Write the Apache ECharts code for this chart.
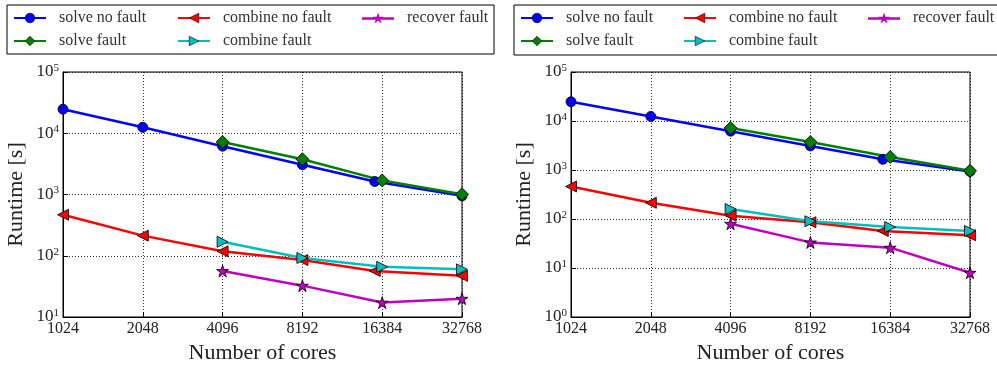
<!DOCTYPE html>
<html>
<head>
<meta charset="utf-8">
<script src="https://cdn.jsdelivr.net/npm/echarts@6/dist/echarts.min.js"></script>
<style>
  html, body { margin: 0; padding: 0; background: #fff; }
  #chart { width: 997px; height: 369px; }
</style>
</head>
<body>
<div id="chart"></div>
<script>
// x values (number of cores); "no fault" runs at the 16k point used 15360 cores
const coresNoFault = [1024, 2048, 4096, 8192, 15360, 32768];
const coresFault = [4096, 8192, 16384, 32768];

// left panel
const leftSolveNoFault = [24700, 12500, 6150, 3060, 1630, 950];
const leftSolveFault = [7200, 3770, 1700, 1010];
const leftCombineNoFault = [467, 213, 118, 85, 56.5, 47];
const leftCombineFault = [169, 92, 66, 60];
const leftRecoverFault = [56.5, 32.5, 17.2, 19.9];

// right panel
const rightSolveNoFault = [24700, 12400, 6200, 3100, 1650, 935];
const rightSolveFault = [7220, 3720, 1840, 965];
const rightCombineNoFault = [461, 214, 117, 86, 57, 46.7];
const rightCombineFault = [160, 90, 68.5, 57];
const rightRecoverFault = [80, 33.3, 26, 8];

const FONT = '"Liberation Serif", "DejaVu Serif", serif';
const STAR = 'path://M50 0 L61.17 34.63 L97.55 34.55 L68.07 55.87 L79.39 90.45 L50 69 L20.61 90.45 L31.93 55.87 L2.45 34.55 L38.83 34.63 Z';
// legend icon: short bar with a star in the middle
const STAR_LEGEND = 'path://M0 48 L320 48 L320 72 L0 72 Z M160 0 L173.52 41.39 L217.06 41.46 L181.87 67.11 L195.27 108.54 L160 83 L124.73 108.54 L138.13 67.11 L102.94 41.46 L146.48 41.39 Z';

const styles = {
  'solve no fault':   { color: '#0000ff', symbol: 'circle', size: 10, rotate: 0 },
  'solve fault':      { color: '#008000', symbol: 'diamond', size: 13, rotate: 0 },
  'combine no fault': { color: '#ff0000', symbol: 'triangle', size: 11, rotate: 90 },
  'combine fault':    { color: '#00bfbf', symbol: 'triangle', size: 11, rotate: -90 },
  'recover fault':    { color: '#bf00bf', symbol: STAR, size: 12, rotate: 0 }
};

function pairs(xs, ys) {
  return xs.map((x, i) => [x, ys[i]]);
}

function makeSeries(name, xs, ys, idx) {
  const s = styles[name];
  return {
    name: name,
    type: 'line',
    xAxisIndex: idx,
    yAxisIndex: idx,
    data: pairs(xs, ys),
    symbol: s.symbol,
    symbolSize: s.size,
    symbolRotate: s.rotate,
    showAllSymbol: true,
    lineStyle: { color: s.color, width: 2.5 },
    itemStyle: { color: s.color, borderColor: '#000', borderWidth: 0.8 },
    z: 3
  };
}

function xAxis(idx) {
  return {
    type: 'log',
    logBase: 2,
    gridIndex: idx,
    min: 1024,
    max: 32768,
    name: 'Number of cores',
    nameLocation: 'middle',
    nameGap: 25,
    nameTextStyle: { fontFamily: FONT, fontSize: 22, color: '#222' },
    axisLine: { lineStyle: { color: '#000', width: 1 } },
    axisTick: { inside: true, length: 5, lineStyle: { color: '#000' } },
    axisLabel: {
      fontFamily: FONT, fontSize: 16, color: '#222', margin: 4,
      showMinLabel: true, showMaxLabel: true,
      formatter: v => String(Math.round(v))
    },
    splitLine: { show: true, lineStyle: { color: '#000', type: [1, 2], width: 0.8 } }
  };
}

function yAxis(idx, min) {
  return {
    type: 'log',
    logBase: 10,
    gridIndex: idx,
    min: min,
    max: 100000,
    name: 'Runtime [s]',
    nameLocation: 'middle',
    nameGap: 36,
    nameTextStyle: { fontFamily: FONT, fontSize: 22, color: '#222' },
    axisLine: { lineStyle: { color: '#000', width: 1 } },
    axisTick: { inside: true, length: 5, lineStyle: { color: '#000' } },
    axisLabel: {
      fontFamily: FONT, fontSize: 17, color: '#222', margin: 4,
      formatter: v => '10{s|' + Math.round(Math.log10(v)) + '}',
      rich: { s: { fontFamily: FONT, fontSize: 11, color: '#222', verticalAlign: 'top', padding: [0, 0, 8, 0] } }
    },
    splitLine: { show: true, lineStyle: { color: '#000', type: [1, 2], width: 0.8 } }
  };
}

function legendItem(n) {
  const s = styles[n];
  if (n === 'recover fault') {
    return { name: n, icon: STAR_LEGEND, itemStyle: { color: s.color, borderColor: '#000', borderWidth: 0 } };
  }
  return { name: n, itemStyle: { color: s.color, borderColor: '#000', borderWidth: 0.6 } };
}

function legend(left, names) {
  return {
    orient: 'vertical',
    left: left,
    top: 10,
    padding: 0,
    itemWidth: 32,
    itemHeight: 12,
    itemGap: 7,
    data: names.map(legendItem),
    textStyle: { fontFamily: FONT, fontSize: 16, color: '#333', padding: [0, 0, 0, 8] }
  };
}

const chart = echarts.init(document.getElementById('chart'));
chart.setOption({
  animation: false,
  backgroundColor: '#fff',
  graphic: [
    { type: 'rect', shape: { x: 7, y: 5, width: 487, height: 49 },
      style: { fill: 'none', stroke: '#000', lineWidth: 1 } },
    { type: 'rect', shape: { x: 514, y: 5, width: 500, height: 50 },
      style: { fill: 'none', stroke: '#000', lineWidth: 1 } }
  ],
  legend: [
    legend(13, ['solve no fault', 'solve fault']),
    legend(177, ['combine no fault', 'combine fault']),
    legend(362, ['recover fault']),
    legend(520, ['solve no fault', 'solve fault']),
    legend(683, ['combine no fault', 'combine fault']),
    legend(868, ['recover fault'])
  ],
  grid: [
    { left: 63, top: 72, width: 399, height: 250, show: true, borderColor: '#000', borderWidth: 1 },
    { left: 571, top: 72, width: 399, height: 250, show: true, borderColor: '#000', borderWidth: 1 }
  ],
  xAxis: [xAxis(0), xAxis(1)],
  yAxis: [yAxis(0, 10), yAxis(1, 1)],
  series: [
    makeSeries('solve no fault', coresNoFault, leftSolveNoFault, 0),
    makeSeries('solve fault', coresFault, leftSolveFault, 0),
    makeSeries('combine no fault', coresNoFault, leftCombineNoFault, 0),
    makeSeries('combine fault', coresFault, leftCombineFault, 0),
    makeSeries('recover fault', coresFault, leftRecoverFault, 0),
    makeSeries('solve no fault', coresNoFault, rightSolveNoFault, 1),
    makeSeries('solve fault', coresFault, rightSolveFault, 1),
    makeSeries('combine no fault', coresNoFault, rightCombineNoFault, 1),
    makeSeries('combine fault', coresFault, rightCombineFault, 1),
    makeSeries('recover fault', coresFault, rightRecoverFault, 1)
  ]
});
</script>
</body>
</html>
